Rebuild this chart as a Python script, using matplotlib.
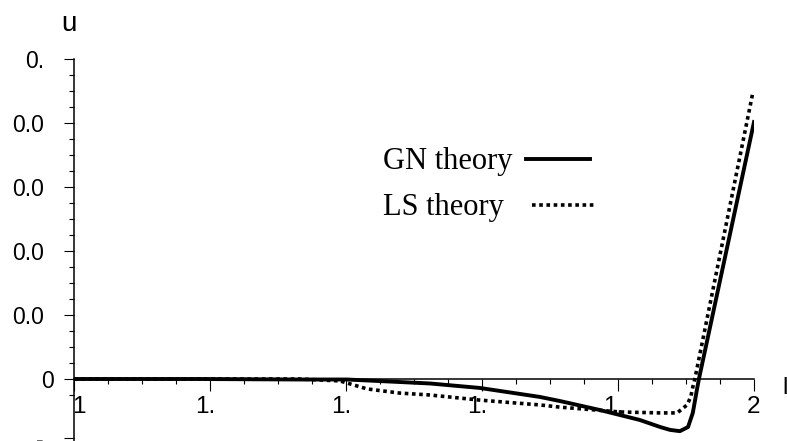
import matplotlib.pyplot as plt
from matplotlib.transforms import ScaledTranslation
import numpy as np

plt.rcParams['font.family'] = ['Liberation Sans', 'DejaVu Sans']

# GN theory (solid line)
gn_x = [1.0, 1.185, 1.332, 1.4015, 1.479, 1.5235, 1.597, 1.685, 1.715, 1.7735,
        1.832, 1.862, 1.8765, 1.891, 1.903, 1.910, 1.916, 1.919, 2.0]
gn_y = [0.0, 0.0, -0.00016, -0.00016, -0.00094, -0.0014, -0.0028, -0.0056, -0.0069,
        -0.0097, -0.0128, -0.015, -0.0159, -0.0163, -0.015, -0.0106, -0.0034, 0.0, 0.0803]

# LS theory (dotted line)
ls_x = [1.0, 1.185, 1.332, 1.391, 1.4015, 1.431, 1.479, 1.5235, 1.597, 1.685, 1.715,
        1.803, 1.862, 1.887, 1.9015, 1.907, 1.910, 1.913, 1.9985]
ls_y = [0.0, 0.0, 0.0, -0.0006, -0.00125, -0.0031, -0.0044, -0.005, -0.0066, -0.0081,
        -0.0088, -0.0103, -0.0106, -0.0106, -0.0081, -0.0056, -0.0025, 0.0, 0.0897]

x_ticks = [1.0, 1.2, 1.4, 1.6, 1.8, 2.0]
x_ticklabels = ["1", "1.", "1.", "1.", "1.", "2"]
y_ticks = [-0.0185, 0.0, 0.02, 0.04, 0.06, 0.08, 0.1]
y_ticklabels = ["-", "0", "0.0", "0.0", "0.0", "0.0", "0."]

fig = plt.figure(figsize=(7.87, 4.41), dpi=100)
ax = fig.add_axes([74 / 787, 0, 680 / 787, 382 / 441])

gn_line, = ax.plot(gn_x, gn_y, color="black", lw=2.8, label="GN theory")
ls_line, = ax.plot(ls_x, ls_y, color="black", lw=2.6, ls=(0, (1, 1)), label="LS theory")

ax.set_xlim(1, 2)
ax.set_ylim(-0.019375, 0.1)

ax.spines["top"].set_visible(False)
ax.spines["right"].set_visible(False)
ax.spines["bottom"].set_position(("data", 0))
ax.spines["left"].set_linewidth(1.1)
ax.spines["bottom"].set_linewidth(1.1)

ax.set_xticks(x_ticks)
ax.set_xticklabels(x_ticklabels, fontsize=17.5)
ax.set_xticks([v for v in np.arange(1.05, 2.0, 0.05) if abs(v * 5 - round(v * 5)) > 1e-6], minor=True)
ax.set_yticks(y_ticks)
ax.set_yticklabels(y_ticklabels, fontsize=16.5)
ax.set_yticks([-0.005] + [v for v in np.arange(0.005, 0.1, 0.005) if abs(v * 50 - round(v * 50)) > 1e-6],
              minor=True)

ax.tick_params(axis="x", which="major", direction="out", length=8.6, width=0.8, pad=3.5)
ax.tick_params(axis="x", which="minor", direction="out", length=3.6, width=0.8)
ax.tick_params(axis="y", which="major", direction="out", length=7.2, width=0.8, pad=7.2)
ax.tick_params(axis="y", which="minor", direction="out", length=3.6, width=0.8)

# truncated labels sit a bit off their ticks
for lab, t in zip(ax.get_yticklabels(), y_ticklabels):
    if t != "0":
        lab.set_transform(lab.get_transform() + ScaledTranslation(-0.1, 0, fig.dpi_scale_trans))
for lab, t in zip(ax.get_xticklabels(), x_ticklabels):
    dx = {"1": 0.05, "1.": -0.05}.get(t, 0)
    lab.set_transform(lab.get_transform() + ScaledTranslation(dx, 0, fig.dpi_scale_trans))

ax.set_ylabel("u", fontsize=20, rotation=0, ha="center", va="center")
ax.yaxis.set_label_coords(-0.0074, 1.0916)
ax.set_xlabel("l", fontsize=17, ha="center", va="center")
ax.xaxis.set_label_coords(1.0456, 0.1387)

# two one-row legends: text on the left, sample on the right
prop = {"family": "Liberation Serif", "size": 22}
leg1 = ax.legend(handles=[gn_line], loc="center left", bbox_to_anchor=(383 / 787, 1 - 162 / 441),
                 bbox_transform=fig.transFigure, frameon=False, markerfirst=False, prop=prop,
                 handlelength=2.1, handletextpad=0.45, borderpad=0, borderaxespad=0)
ax.add_artist(leg1)
ax.legend(handles=[ls_line], loc="center left", bbox_to_anchor=(383 / 787, 1 - 208 / 441),
          bbox_transform=fig.transFigure, frameon=False, markerfirst=False, prop=prop,
          handlelength=2.1, handletextpad=0.92, borderpad=0, borderaxespad=0)

plt.savefig("out.png", dpi=100)
